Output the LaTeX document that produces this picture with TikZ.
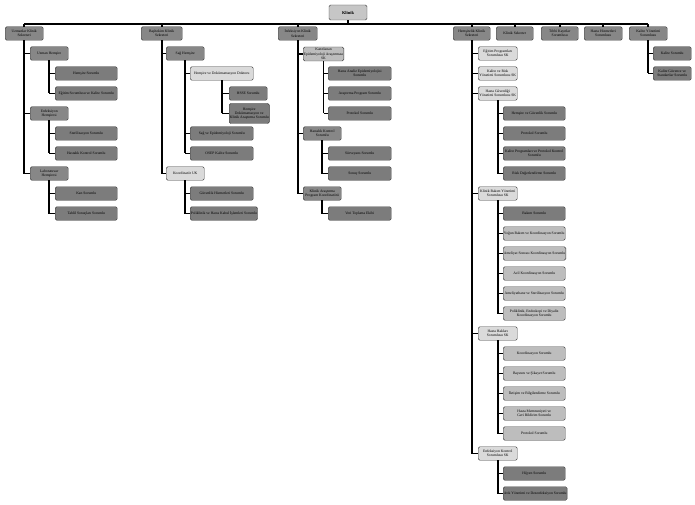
\documentclass[tikz,border=0pt]{standalone}
\usepackage{fontspec}
\setmainfont{Liberation Serif}
\definecolor{rootgray}{HTML}{C6C6C6}
\definecolor{headgray}{HTML}{878787}
\definecolor{darkgray2}{HTML}{7C7C7C}
\definecolor{palegray}{HTML}{BDBDBD}
\definecolor{lightgray2}{HTML}{DADADA}
\tikzset{
  box/.style={draw=black!75, rounded corners=1.5pt, line width=0.45pt, align=center, inner sep=0.6pt,
    minimum height=13.5pt, anchor=west, font=\fontsize{3.7}{4.3}\selectfont},
  head/.style={box, fill=headgray},
  dark/.style={box, fill=darkgray2},
  pale/.style={box, fill=palegray},
  light/.style={box, fill=lightgray2},
  link/.style={line width=1.6pt, black},
}
\begin{document}
\begin{tikzpicture}[x=1pt, y=-1pt]
            \useasboundingbox (0,0) rectangle (695,505);
            \node[box, fill=rootgray, anchor=center, minimum width=38pt, minimum height=15pt, font=\fontsize{4.4}{5}\selectfont\bfseries] (root) at (348,12.5) {Klinik};
            \coordinate (bus) at (0,24);
            % first row
            \node[head, minimum width=38pt] (uz) at (5,33.5)   {Uzmanlar Klinik\\Sekreteri};
            \node[head, minimum width=41pt] (bs) at (141,33.5) {Başhekim Klinik\\Sekreteri};
            \node[head, minimum width=39pt] (in) at (278,33.5) {İnfeksiyon Klinik\\Sekreteri};
            \node[head, minimum width=37pt] (hk) at (453,33.5) {Hemşirelik Klinik\\Sekreteri};
            \node[head, minimum width=37pt] (ks) at (496,33.5) {Klinik Sekreter};
            \node[head, minimum width=37pt] (tk) at (541,33.5) {Tıbbi Kayıtlar\\Sorumlusu};
            \node[head, minimum width=38pt] (hh) at (584,33.5) {Hasta Hizmetleri\\Sorumlusu};
            \node[head, minimum width=38pt] (ky) at (629,33.5) {Kalite Yönetimi\\Sorumlusu};
            % Uzmanlar
            \node[head, minimum width=38pt] (uzA) at (30,53.5)  {Uzman Hemşire};
            \node[dark, minimum width=62pt] (uzA1) at (55,73.5) {Hemşire Sorumlu};
            \node[dark, minimum width=62pt] (uzA2) at (55,93.5) {Eğitim Sorumlusu ve Kalite Sorumlu};
            \node[head, minimum width=38pt] (uzB) at (30,113.5) {Enfeksiyon\\Hemşiresi};
            \node[dark, minimum width=62pt] (uzB1) at (55,133.5) {Sterilizasyon Sorumlu};
            \node[dark, minimum width=62pt] (uzB2) at (55,153.5) {Hastalık Kontrol Sorumlu};
            \node[head, minimum width=38pt] (uzC) at (30,173.5) {Laboratuvar\\Hemşiresi};
            \node[dark, minimum width=62pt] (uzC1) at (55,193.5) {Kan Sorumlu};
            \node[dark, minimum width=62pt] (uzC2) at (55,213.5) {Tahlil Sonuçları Sorumlu};
            % Bashekim
            \node[head, minimum width=38pt] (bsA) at (166,53.5) {Sağ Hemşire};
            \node[light, minimum width=63pt] (bsA1) at (190,73.5) {Hemşire ve Dokümantasyon Doktoru};
            \node[dark, minimum width=38pt] (bsA1a) at (229,93.5) {HSSE Sorumlu};
            \node[dark, minimum width=38pt, minimum height=20pt] (bsA1b) at (229,113.5) {Hemşire\\Dokümantasyon ve\\Klinik Araştırma Sorumlu};
            \node[dark, minimum width=63pt] (bsA2) at (190,133.5) {Sağ ve Epidemiyoloji Sorumlu};
            \node[dark, minimum width=63pt] (bsA3) at (190,153.5) {OSEP Kalite Sorumlu};
            \node[light, minimum width=38pt] (bsB) at (166,173.5) {Koordinatör UK};
            \node[dark, minimum width=63pt] (bsB1) at (190,193.5) {Güvenlik Hizmetleri Sorumlu};
            \node[dark, minimum width=63pt] (bsB2) at (190,213.5) {Poliklinik ve Hasta Kabul İşlemleri Sorumlu};
            % Infeksiyon
            \node[pale, minimum width=38pt, minimum height=14pt] (inA) at (303,54) {Kanıtlanan\\Epidemiyoloji Araştırması\\SK};
            \node[dark, minimum width=63pt] (inA1) at (328,73.5) {Hasta Analiz Epidemiyolojisi\\Sorumlu};
            \node[dark, minimum width=63pt] (inA2) at (328,93.5) {Araştırma Program Sorumlu};
            \node[dark, minimum width=63pt] (inA3) at (328,113.5) {Protokol Sorumlu};
            \node[head, minimum width=38pt] (inB) at (303,133.5) {Hastalık Kontrol\\Sorumlu};
            \node[dark, minimum width=63pt] (inB1) at (328,153.5) {Sürveyans Sorumlu};
            \node[dark, minimum width=63pt] (inB2) at (328,173.5) {Sonuç Sorumlu};
            \node[head, minimum width=38pt] (inC) at (303,193.5) {Klinik Araştırma\\Program Koordinatörü};
            \node[dark, minimum width=63pt] (inC1) at (328,213.5) {Veri Toplama Ekibi};
            % Hemsirelik
            \node[light, minimum width=39pt] (hkA) at (478,53.5)  {Eğitim Programları\\Sorumlusu SK};
            \node[light, minimum width=39pt] (hkB) at (478,73.5)  {Kalite ve Risk\\Yönetimi Sorumlusu SK};
            \node[light, minimum width=39pt] (hkC) at (478,93.5)  {Hasta Güvenliği\\Yönetimi Sorumlusu SK};
            \node[dark, minimum width=62pt] (hkC1) at (503,113.5) {Hemşire ve Güvenlik Sorumlu};
            \node[dark, minimum width=62pt] (hkC2) at (503,133.5) {Protokol Sorumlu};
            \node[dark, minimum width=62pt] (hkC3) at (503,153.5) {Kalite Programları ve Protokol Kontrol\\Sorumlu};
            \node[dark, minimum width=62pt] (hkC4) at (503,173.5) {Risk Değerlendirme Sorumlu};
            \node[light, minimum width=39pt] (hkD) at (478,193.5) {Klinik Bakım Yönetimi\\Sorumlusu SK};
            \node[dark, minimum width=62pt] (hkD1) at (503,213.5) {Bakım Sorumlu};
            \node[pale, minimum width=62pt] (hkD2) at (503,233.5) {Yoğun Bakım ve Koordinasyon Sorumlu};
            \node[pale, minimum width=62pt] (hkD3) at (503,253.5) {Ameliyat Sonrası Koordinasyon Sorumlu};
            \node[pale, minimum width=62pt] (hkD4) at (503,273.5) {Acil Koordinasyon Sorumlu};
            \node[pale, minimum width=62pt] (hkD5) at (503,293.5) {Ameliyathane ve Sterilizasyon Sorumlu};
            \node[pale, minimum width=62pt] (hkD6) at (503,313.5) {Poliklinik, Endoskopi ve Diyaliz\\Koordinasyon Sorumlu};
            \node[light, minimum width=39pt] (hkE) at (478,333.5) {Hasta Hakları\\Sorumlusu SK};
            \node[pale, minimum width=62pt] (hkE1) at (503,353.5) {Koordinasyon Sorumlu};
            \node[pale, minimum width=62pt] (hkE2) at (503,373.5) {Başvuru ve Şikayet Sorumlu};
            \node[pale, minimum width=62pt] (hkE3) at (503,393.5) {İletişim ve Bilgilendirme Sorumlu};
            \node[pale, minimum width=62pt] (hkE4) at (503,413.5) {Hasta Memnuniyeti ve\\Geri Bildirim Sorumlu};
            \node[pale, minimum width=62pt] (hkE5) at (503,433.5) {Protokol Sorumlu};
            \node[light, minimum width=39pt] (hkF) at (478,453.5) {Enfeksiyon Kontrol\\Sorumlusu SK};
            \node[dark, minimum width=62pt] (hkF1) at (503,473.5) {Hijyen Sorumlu};
            \node[dark, minimum width=62pt] (hkF2) at (503,493.5) {Atık Yönetimi ve Dezenfeksiyon Sorumlu};
            % Kalite
            \node[dark, minimum width=38pt] (kyA) at (653,53.5) {Kalite Sorumlu};
            \node[dark, minimum width=38pt] (kyB) at (653,73.5) {Kalite Güvence ve\\Standartlar Sorumlu};
            % connectors
            \draw[link] (root.south) -- (root.south |- bus);
            \draw[link] (uz.north |- bus) -- (ky.north |- bus);
            \foreach \h in {uz,bs,in,hk,ks,tk,hh,ky}
                \draw[link] (\h.north |- bus) -- (\h.north);
            \draw[link] (uz.south) -- (uz.south |- uzC.west);
            \foreach \k in {uzA,uzB,uzC} \draw[link] (uz.south |- \k.west) -- (\k.west);
            \draw[link] (uzA.south) -- (uzA.south |- uzA2.west);
            \foreach \k in {uzA1,uzA2} \draw[link] (uzA.south |- \k.west) -- (\k.west);
            \draw[link] (uzB.south) -- (uzB.south |- uzB2.west);
            \foreach \k in {uzB1,uzB2} \draw[link] (uzB.south |- \k.west) -- (\k.west);
            \draw[link] (uzC.south) -- (uzC.south |- uzC2.west);
            \foreach \k in {uzC1,uzC2} \draw[link] (uzC.south |- \k.west) -- (\k.west);
            \draw[link] (bs.south) -- (bs.south |- bsB.west);
            \foreach \k in {bsA,bsB} \draw[link] (bs.south |- \k.west) -- (\k.west);
            \draw[link] (bsA.south) -- (bsA.south |- bsA3.west);
            \foreach \k in {bsA1,bsA2,bsA3} \draw[link] (bsA.south |- \k.west) -- (\k.west);
            \draw[link] (bsA1.south) -- (bsA1.south |- bsA1b.west);
            \foreach \k in {bsA1a,bsA1b} \draw[link] (bsA1.south |- \k.west) -- (\k.west);
            \draw[link] (bsB.south) -- (bsB.south |- bsB2.west);
            \foreach \k in {bsB1,bsB2} \draw[link] (bsB.south |- \k.west) -- (\k.west);
            \draw[link] (in.south) -- (in.south |- inC.west);
            \foreach \k in {inA,inB,inC} \draw[link] (in.south |- \k.west) -- (\k.west);
            \draw[link] (inA.south) -- (inA.south |- inA3.west);
            \foreach \k in {inA1,inA2,inA3} \draw[link] (inA.south |- \k.west) -- (\k.west);
            \draw[link] (inB.south) -- (inB.south |- inB2.west);
            \foreach \k in {inB1,inB2} \draw[link] (inB.south |- \k.west) -- (\k.west);
            \draw[link] (inC.south) -- (inC.south |- inC1.west);
            \draw[link] (inC.south |- inC1.west) -- (inC1.west);
            \draw[link] (hk.south) -- (hk.south |- hkF.west);
            \foreach \k in {hkA,hkB,hkC,hkD,hkE,hkF} \draw[link] (hk.south |- \k.west) -- (\k.west);
            \draw[link] (hkC.south) -- (hkC.south |- hkC4.west);
            \foreach \k in {hkC1,hkC2,hkC3,hkC4} \draw[link] (hkC.south |- \k.west) -- (\k.west);
            \draw[link] (hkD.south) -- (hkD.south |- hkD6.west);
            \foreach \k in {hkD1,hkD2,hkD3,hkD4,hkD5,hkD6} \draw[link] (hkD.south |- \k.west) -- (\k.west);
            \draw[link] (hkE.south) -- (hkE.south |- hkE5.west);
            \foreach \k in {hkE1,hkE2,hkE3,hkE4,hkE5} \draw[link] (hkE.south |- \k.west) -- (\k.west);
            \draw[link] (hkF.south) -- (hkF.south |- hkF2.west);
            \foreach \k in {hkF1,hkF2} \draw[link] (hkF.south |- \k.west) -- (\k.west);
            \draw[link] (ky.south) -- (ky.south |- kyB.west);
            \foreach \k in {kyA,kyB} \draw[link] (ky.south |- \k.west) -- (\k.west);
        \end{tikzpicture}
\end{document}
